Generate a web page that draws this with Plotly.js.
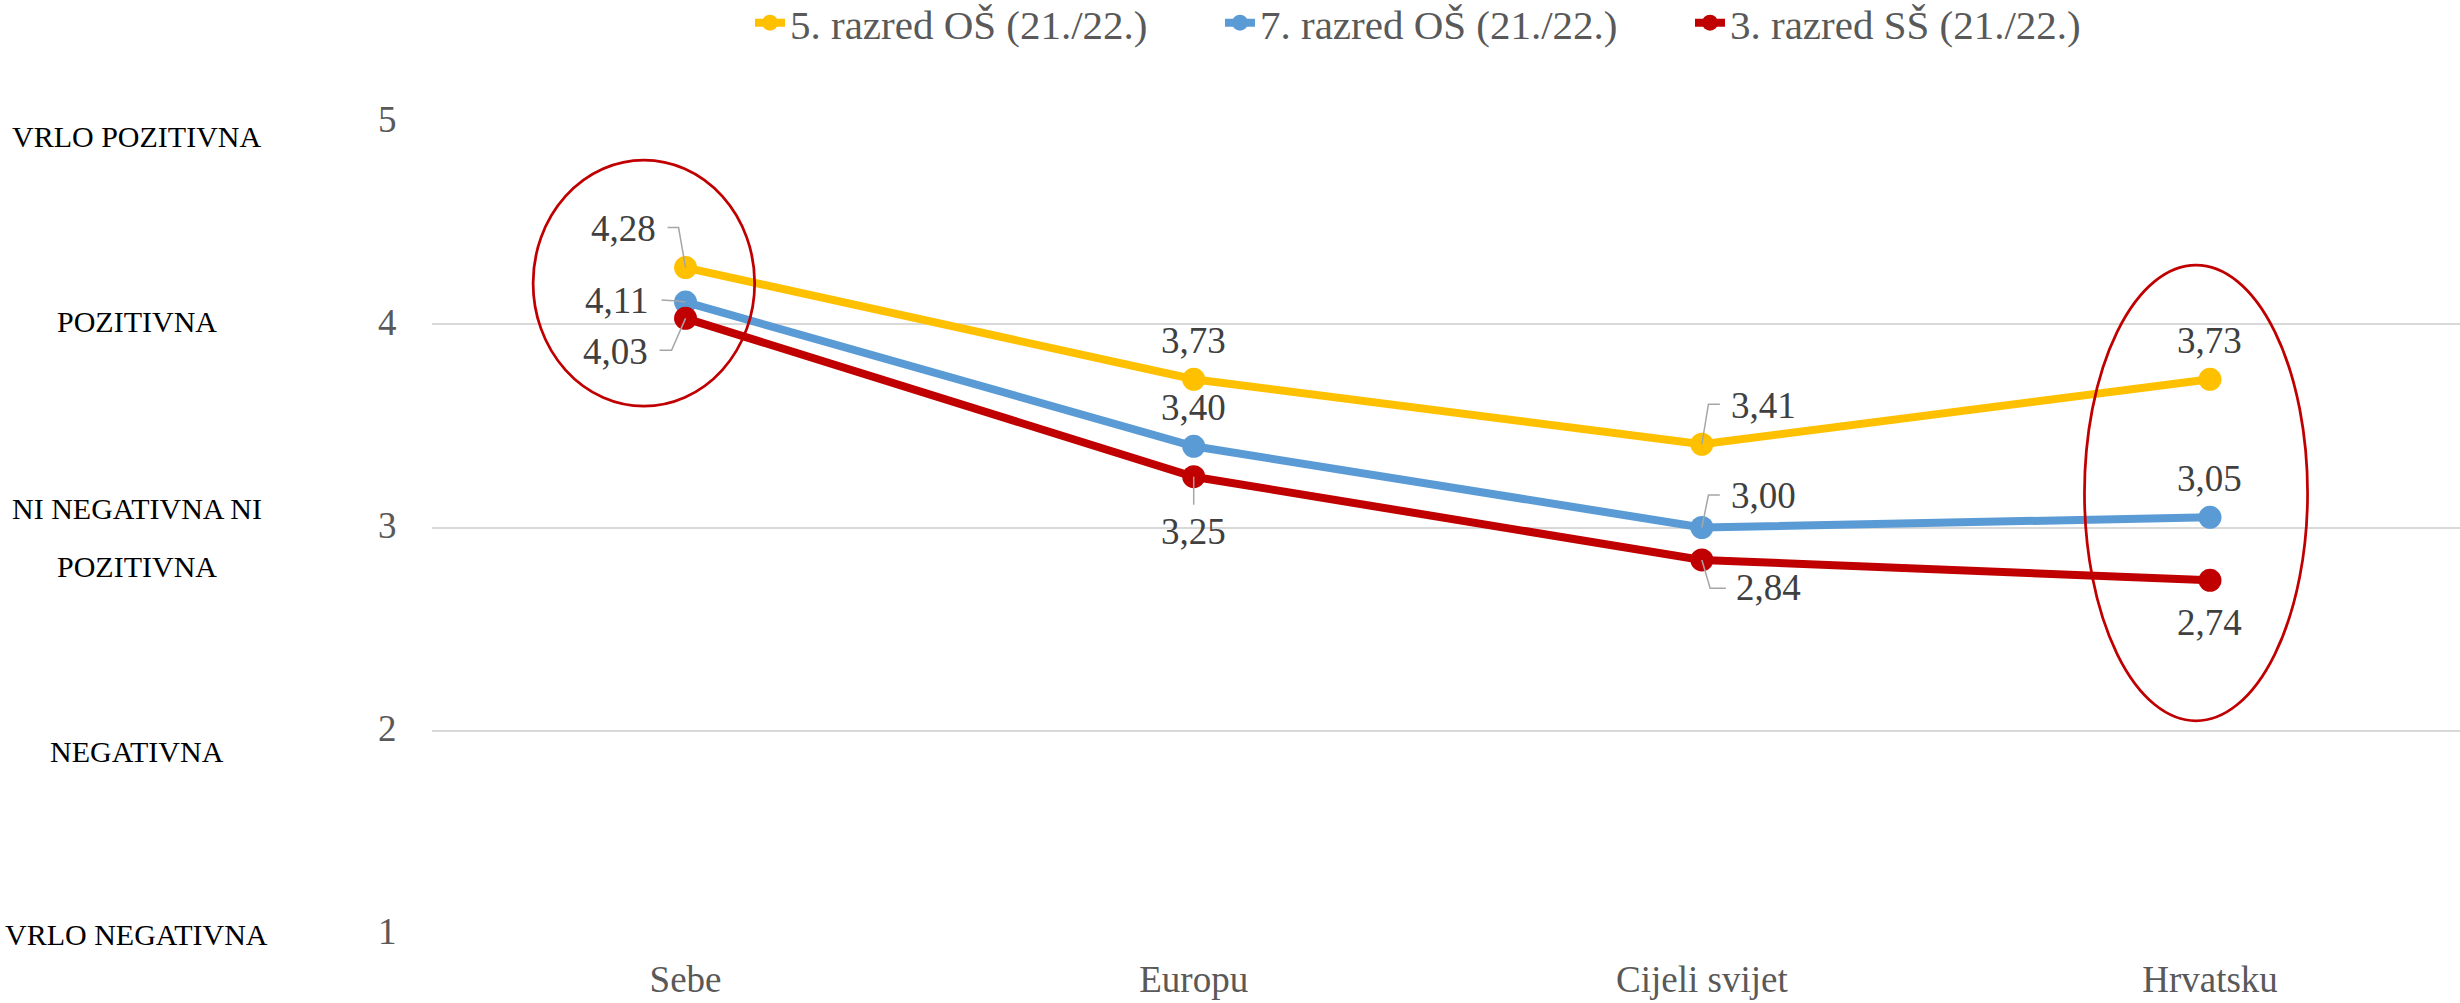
<!DOCTYPE html>
<html>
<head>
<meta charset="utf-8">
<script src="https://cdn.plot.ly/plotly-3.0.1.min.js"></script>
<style>
  html, body { margin: 0; padding: 0; background: #ffffff; }
  #chart { width: 2460px; height: 1003px; }
</style>
</head>
<body>
<div id="chart"></div>
<script>
// ---------- DATA ----------
const categories = ['Sebe', 'Europu', 'Cijeli svijet', 'Hrvatsku'];
const seriesNames = ['5. razred OŠ (21./22.)', '7. razred OŠ (21./22.)', '3. razred SŠ (21./22.)'];
const grade5 = [4.28, 3.73, 3.41, 3.73];
const grade7 = [4.11, 3.40, 3.00, 3.05];
const grade3ss = [4.03, 3.25, 2.84, 2.74];
const yTickValues = [1, 2, 3, 4, 5];
const levelLabels = ['VRLO NEGATIVNA', 'NEGATIVNA', 'NI NEGATIVNA NI<br>POZITIVNA', 'POZITIVNA', 'VRLO POZITIVNA'];

// ---------- STYLE ----------
const seriesValues = [grade5, grade7, grade3ss];
const seriesColors = ['#FFC000', '#5B9BD5', '#C00000'];
// label offsets in screen pixels (text centre relative to point, y downwards)
const labelOffsets = [
  [[-62, -39], [0, -39], [62, -39], [0, -39]],
  [[-69, -2], [0, -39], [62, -32], [0, -39]],
  [[-70, 33], [0, 55], [67, 28], [0, 42]]
];
// elbow leader lines, screen-pixel offsets from the point (null = no leader)
const leaderPaths = [
  [[[-18, -40], [-7, -40], [0, 0]], null, [[0, 0], [6.6, -40], [18, -40]], null],
  [[[-24, -2], [-8, -1], [0, 0]], null, [[0, 0], [6.6, -32.5], [18, -32.5]], null],
  [[[-26, 32], [-14, 32], [0, 0]], [[0, 0], [0, 28]], [[0, 0], [8.3, 28.3], [24, 28.3]], null]
];
// vertical pixel offsets (downwards) of the level labels relative to their gridline, per line
const levelLabelShifts = [[1], [21], [-19, 39], [-3], [15]];

const fontFam = '"Liberation Serif", "Times New Roman", serif';
const grey = '#595959';

const traces = seriesValues.map((vals, i) => ({
  type: 'scatter',
  mode: 'lines+markers',
  name: seriesNames[i],
  x: categories,
  y: vals,
  line: { color: seriesColors[i], width: 8 },
  marker: { color: seriesColors[i], size: 23 },
  cliponaxis: false
}));

const annotations = [];
const shapes = [];
seriesValues.forEach((vals, i) => {
  vals.forEach((v, j) => {
    annotations.push({
      x: categories[j], y: v, xref: 'x', yref: 'y',
      xanchor: 'center', yanchor: 'middle',
      text: v.toFixed(2).replace('.', ','),
      showarrow: false,
      xshift: labelOffsets[i][j][0], yshift: -labelOffsets[i][j][1],
      font: { family: fontFam, size: 37, color: '#404040' }
    });
    const lp = leaderPaths[i][j];
    if (lp) {
      shapes.push({
        type: 'path', xref: 'x', yref: 'y',
        xsizemode: 'pixel', ysizemode: 'pixel',
        xanchor: j, yanchor: v,
        path: lp.map((p, k) => (k ? 'L' : 'M') + p[0] + ',' + (-p[1])).join(' '),
        line: { color: '#A6A6A6', width: 1.5 },
        layer: 'above'
      });
    }
  });
});

// y-axis tick labels (numbers) as text beside the gridlines
yTickValues.forEach((t) => {
  annotations.push({
    x: -0.0219, xref: 'paper', xanchor: 'center',
    y: t, yref: 'y', yanchor: 'middle', yshift: 2,
    text: String(t), showarrow: false,
    font: { family: fontFam, size: 37, color: grey }
  });
});

levelLabels.forEach((lbl, k) => {
  lbl.split('<br>').forEach((line, li) => {
    annotations.push({
      x: -0.1455, xref: 'paper', xanchor: 'center',
      y: yTickValues[k], yref: 'y', yanchor: 'middle',
      yshift: -levelLabelShifts[k][li],
      text: line, showarrow: false,
      font: { family: fontFam, size: 30, color: '#000000' }
    });
  });
});

shapes.push(
  { type: 'circle', xref: 'x', yref: 'y', x0: -0.300, x1: 0.136, y0: 3.598, y1: 4.809,
    line: { color: '#C00000', width: 2.75 }, fillcolor: 'rgba(0,0,0,0)' },
  { type: 'circle', xref: 'x', yref: 'y', x0: 2.753, x1: 3.192, y0: 2.048, y1: 4.292,
    line: { color: '#C00000', width: 2.75 }, fillcolor: 'rgba(0,0,0,0)' }
);

const layout = {
  width: 2460, height: 1003,
  margin: { l: 432, r: 0, t: 121, b: 69, autoexpand: false },
  paper_bgcolor: '#ffffff', plot_bgcolor: '#ffffff',
  hovermode: false,
  showlegend: true,
  legend: {
    orientation: 'h', x: 0.1568, xanchor: 'left', y: 1.1205, yanchor: 'middle',
    font: { family: fontFam, size: 41, color: grey },
    itemwidth: 30, traceorder: 'normal',
    entrywidth: 425, entrywidthmode: 'pixels'
  },
  xaxis: {
    type: 'category', range: [-0.499, 3.492],
    showgrid: false, zeroline: false, showline: false, ticks: '',
    ticklabelstandoff: 20,
    tickfont: { family: fontFam, size: 37, color: grey }
  },
  yaxis: {
    range: [0.998, 5.002], tickvals: yTickValues, showticklabels: false,
    showgrid: true, gridcolor: '#D9D9D9', gridwidth: 2,
    zeroline: false, showline: false, ticks: ''
  },
  annotations: annotations,
  shapes: shapes
};

Plotly.newPlot('chart', traces, layout, { staticPlot: true, displayModeBar: false });
</script>
</body>
</html>
